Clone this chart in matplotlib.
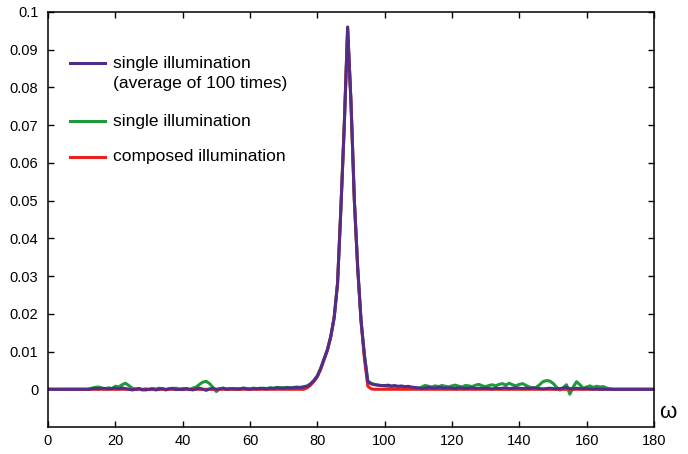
import numpy as np
import matplotlib.pyplot as plt

plt.rcParams['font.family'] = ['Liberation Sans', 'DejaVu Sans']

omega = np.arange(0, 181)

# values in units of 1e-3
avg_single = [
    0, 0, 0, 0, 0, 0, 0, 0, 0, 0,
    0, 0, 0, 0.1, 0.2, 0.1, 0.3, 0.2, 0.1, 0.2,
    0.3, 0.1, 0.4, 0.2, 0, -0.2, 0, 0.2, -0.1, -0.2,
    0, 0.1, -0.2, 0, 0.2, -0.1, 0.1, 0.3, -0.1, 0,
    -0.1, 0.2, 0, -0.2, 0.1, 0.3, 0, -0.3, 0.1, 0.2,
    0, 0.1, 0.3, 0, 0.1, 0.2, 0, 0.1, 0.3, 0.1,
    0, 0.2, 0.1, 0.3, 0.2, 0.1, 0.3, 0.2, 0.4, 0.3,
    0.3, 0.4, 0.3, 0.4, 0.5, 0.4, 0.6, 0.8, 1.4, 2.3,
    3.5, 5.5, 8.0, 10.5, 14, 19, 28, 48, 70, 96,
    76, 50, 32, 18, 9, 2.0, 1.4, 1.2, 1.1, 1.0,
    1.0, 1.1, 0.9, 1.0, 0.8, 0.9, 0.7, 0.8, 0.6, 0.5,
    0.4, 0.2, 0.3, 0.5, 0.4, 0.3, 0.5, 0.4, 0.3, 0.4,
    0.3, 0.2, 0.4, 0.3, 0.2, 0.3, 0.4, 0.2, 0.3, 0.2,
    0.3, 0.2, 0.1, 0.3, 0.2, 0.3, 0.4, 0.2, 0.3, 0.4,
    0.3, 0.2, 0.3, 0.2, 0.4, 0.3, 0.2, 0.1, 0.2, 0.3,
    0.2, 0.1, 0.2, 0.3, 0.5, 0.2, 0.1, 0.3, 0.2, 0.1,
    0.2, 0.1, 0, 0.1, 0, 0, 0, 0, 0, 0,
    0, 0, 0, 0, 0, 0, 0, 0, 0, 0, 0,
]

single = [
    0, 0, 0, 0, 0, 0, 0, 0, 0, 0,
    0, 0, 0, 0.3, 0.5, 0.6, 0.3, 0.1, 0.4, 0.2,
    0.8, 0.6, 1.2, 1.6, 1.0, 0.3, 0, 0.2, -0.2, 0.1,
    -0.1, 0.2, 0, 0.3, 0.1, -0.2, 0.2, 0.1, 0.3, 0,
    0.2, 0.1, -0.1, 0.3, 0.6, 1.3, 1.9, 2.1, 1.5, 0.5,
    -0.6, 0.1, 0.3, 0.1, 0.2, 0, 0.2, 0.1, 0.3, 0.2,
    0.1, 0.3, 0.2, 0.1, 0.3, 0.2, 0.4, 0.3, 0.5, 0.4,
    0.4, 0.5, 0.4, 0.5, 0.6, 0.5, 0.7, 0.9, 1.5, 2.4,
    3.6, 5.6, 8.1, 10.6, 14, 19, 28, 48, 70, 95,
    76, 50, 32, 18, 9, 2.2, 1.6, 1.3, 1.1, 1.0,
    0.9, 0.8, 0.7, 0.8, 0.6, 0.5, 0.4, 0.5, 0.3, 0.2,
    0.2, 0.6, 1.0, 0.8, 0.6, 0.9, 0.7, 1.0, 0.8, 0.6,
    0.9, 1.1, 0.8, 0.6, 1.0, 0.9, 0.7, 1.1, 1.3, 0.9,
    0.7, 1.0, 1.2, 0.9, 1.3, 1.5, 1.1, 1.6, 1.2, 0.9,
    1.3, 1.5, 1.0, 0.6, 0.3, 0.5, 1.2, 2.0, 2.3, 2.2,
    1.6, 0.6, -0.2, 0.4, 1.2, -1.3, 0.6, 2.0, 1.2, 0.3,
    0.6, 0.9, 0.5, 0.8, 0.6, 0.7, 0.3, 0.1, 0, 0,
    0, 0, 0, 0, 0, 0, 0, 0, 0, 0, 0,
]

composed = [0] * 77 + [
    0.4, 1.1, 2.1,
    3.3, 5.3, 7.8, 10.3, 14, 19, 28, 48, 70, 96,
    76, 50, 32, 18, 8, 0.8, 0.1,
] + [0] * 84

avg_single = np.array(avg_single) * 1e-3
single = np.array(single) * 1e-3
composed = np.array(composed) * 1e-3

purple = '#4f2d8c'
green = '#1e9a3a'
red = '#e8211d'

fig = plt.figure(figsize=(6.88, 4.54), dpi=100)
ax = fig.add_axes([48 / 688, 27 / 454, 606 / 688, 415 / 454])

ax.plot(omega, single, color=green, lw=2.2)
ax.plot(omega, composed, color=red, lw=2.2)
ax.plot(omega, avg_single, color=purple, lw=2.1)

ax.set_xlim(0, 180)
ax.set_ylim(-0.01, 0.1)
ax.set_xticks(np.arange(0, 181, 20))
ax.set_yticks(np.arange(0, 0.101, 0.01))
ax.set_yticklabels(['0'] + ['%g' % round(v, 2) for v in np.arange(0.01, 0.101, 0.01)])
ax.tick_params(direction='in', top=True, right=True, length=4, width=1,
               labelsize=10.5)
ax.tick_params(axis='y', pad=7)
ax.tick_params(axis='x', pad=5)
for s in ax.spines.values():
    s.set_linewidth(1.1)

# legend drawn by hand so the handle sits on the first text line
entries = [(purple, 0.877, 'single illumination'),
           (None, 0.827, '(average of 100 times)'),
           (green, 0.737, 'single illumination'),
           (red, 0.651, 'composed illumination')]
for c, y, label in entries:
    if c is not None:
        ax.plot([0.036, 0.094], [y, y], transform=ax.transAxes, color=c, lw=2.2)
    ax.text(0.107, y, label, transform=ax.transAxes, va='center', ha='left',
            fontsize=12.5)

fig.text(668 / 688, 1 - 413 / 454, 'ω', fontsize=16, ha='center', va='center')

fig.savefig('out.png', dpi=100)
